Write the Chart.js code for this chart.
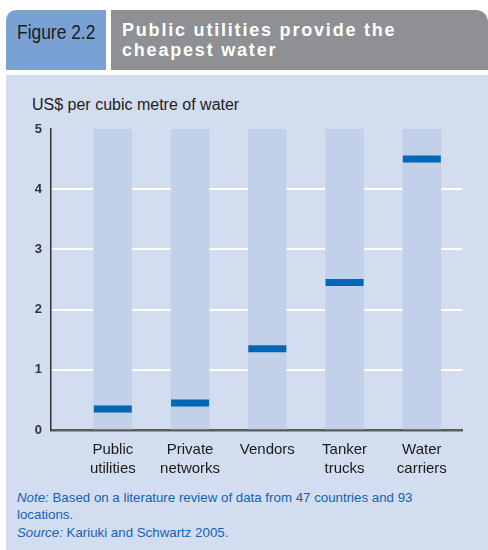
<!DOCTYPE html>
<html>
<head>
<meta charset="utf-8">
<script src="https://cdn.jsdelivr.net/npm/chart.js@4.4.1/dist/chart.umd.min.js"></script>
<style>
  html, body { margin: 0; padding: 0; background: #ffffff; }
  body { position: relative; width: 488px; height: 550px; overflow: hidden; }
  .sans { font-family: "Liberation Sans", Arial, sans-serif; }
  #figbox {
    position: absolute; left: 6px; top: 10px; width: 100px; height: 60px;
    background: #7aa1d3; border-top-left-radius: 10px;
  }
  #figlabel {
    position: absolute; left: 17px; top: 21px; white-space: nowrap;
    font-size: 20px; line-height: 22px; color: #1c1c1c;
    transform: scaleX(0.87); transform-origin: 0 0;
  }
  #titlebox {
    position: absolute; left: 111px; top: 10px; width: 377px; height: 60px;
    background: #8e9094; border-top-right-radius: 12px;
    box-sizing: border-box; padding: 10px 0 0 11px;
    font-weight: bold; font-size: 18px; line-height: 20px;
    letter-spacing: 1.8px; color: #ffffff;
  }
  #panel {
    position: absolute; left: 6px; top: 75px; width: 482px; height: 475px;
    background: #d2ddef;
  }
  #ytitle {
    position: absolute; left: 32px; top: 96px; white-space: nowrap;
    font-size: 16px; line-height: 18px; color: #1e1e1e;
  }
  #notes {
    position: absolute; left: 17px; top: 489px; white-space: nowrap;
    font-size: 13.3px; line-height: 17px; color: #1463b2;
  }
  #notes .src { margin-top: 1px; }
  #c { position: absolute; left: 0; top: 0; }
</style>
</head>
<body>
<div id="figbox"></div>
<div id="figlabel" class="sans">Figure 2.2</div>
<div id="titlebox" class="sans">Public utilities provide the<br>cheapest water</div>
<div id="panel"></div>
<div id="ytitle" class="sans">US$ per cubic metre of water</div>
<div id="notes" class="sans"><i>Note:</i> Based on a literature review of data from 47 countries and 93<br>locations.<div class="src"><i>Source:</i> Kariuki and Schwartz 2005.</div></div>
<canvas id="c" width="488" height="550"></canvas>
<script>
// Water supply options, cheapest first
const categories = [
  ['Public', 'utilities'],
  ['Private', 'networks'],
  ['Vendors'],
  ['Tanker', 'trucks'],
  ['Water', 'carriers']
];
// Price in US$ per cubic metre
const pricePerCubicMetre = [0.35, 0.45, 1.35, 2.45, 4.5];
// Value axis
const yTicks = [0, 1, 2, 3, 4, 5];
const yMax = 5;

const FONT = '"Liberation Sans", Arial, sans-serif';

new Chart(document.getElementById('c'), {
  type: 'bar',
  data: {
    datasets: [
      {
        // short horizontal marks at each price
        type: 'scatter',
        data: pricePerCubicMetre.map((v, i) => ({ x: i, y: v })),
        pointStyle: 'line',
        pointRadius: 19,
        pointHoverRadius: 19,
        borderColor: '#0067b4',
        backgroundColor: '#0067b4',
        pointBorderWidth: 7,
        borderWidth: 7,
        order: 0
      },
      {
        // pale background columns spanning the full axis
        type: 'bar',
        data: categories.map((c, i) => ({ x: i, y: [0, yMax] })),
        backgroundColor: '#c2d0e9',
        barThickness: 38,
        order: 1
      }
    ]
  },
  options: {
    responsive: false,
    animation: false,
    devicePixelRatio: 1,
    events: [],
    layout: { padding: { top: 129, right: 22, left: 0, bottom: 0 } },
    plugins: { legend: { display: false }, tooltip: { enabled: false } },
    scales: {
      x: {
        type: 'linear',
        offset: false,
        min: -0.8,
        max: 4.52,
        z: 1,
        afterBuildTicks: s => { s.ticks = categories.map((c, i) => ({ value: i })); },
        afterFit: s => { s.height = 120; s.paddingLeft = 0; s.paddingRight = 0; },
        grid: { display: false, drawTicks: false },
        border: { display: true, color: '#5b5b5b', width: 2.5 },
        ticks: {
          autoSkip: false,
          maxRotation: 0,
          padding: 10,
          color: '#1a1a1a',
          font: { family: FONT, size: 15, lineHeight: 1.27 },
          callback: v => categories[v]
        }
      },
      y: {
        min: 0,
        max: yMax,
        z: 1,
        afterBuildTicks: s => { s.ticks = yTicks.map(v => ({ value: v })); },
        afterFit: s => { s.width = 51; s.paddingTop = 0; s.paddingBottom = 0; },
        grid: {
          drawTicks: false,
          lineWidth: 2,
          color: c => (c.tick && c.tick.value > 0 && c.tick.value < yMax) ? '#ffffff' : 'rgba(0,0,0,0)'
        },
        border: { display: true, color: '#333333', width: 1.5 },
        ticks: {
          padding: 9,
          color: '#333333',
          font: { family: FONT, size: 13, weight: 'bold' }
        }
      }
    }
  }
});
</script>
</body>
</html>
